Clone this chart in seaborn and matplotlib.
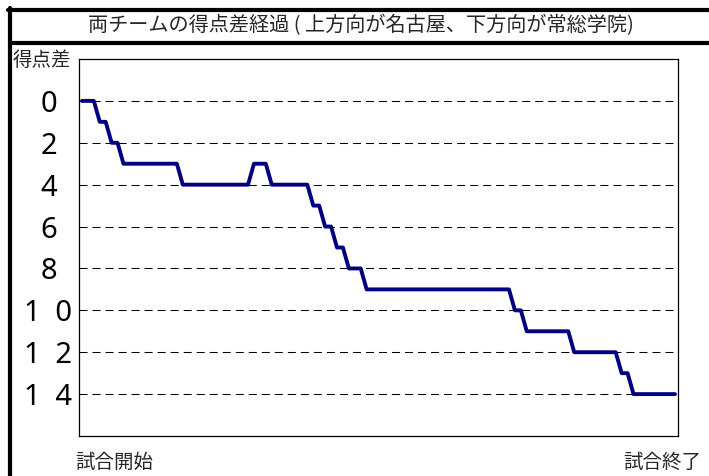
import numpy as np
import pandas as pd
import matplotlib
matplotlib.use("Agg")
import matplotlib.pyplot as plt
import matplotlib.transforms as mtransforms
from matplotlib.lines import Line2D
import seaborn as sns

title = "両チームの得点差経過 ( 上方向が名古屋、下方向が常総学院)"
y_label = "得点差"
start_label = "試合開始"
end_label = "試合終了"

# score difference after each event (down = 常総学院 ahead)
diff = [0, 0, 0, 1, 1, 2, 2, 3, 3, 3,
        3, 3, 3, 3, 3, 3, 3, 4, 4, 4,
        4, 4, 4, 4, 4, 4, 4, 4, 4, 3,
        3, 3, 4, 4, 4, 4, 4, 4, 4, 5,
        5, 6, 6, 7, 7, 8, 8, 8, 9, 9,
        9, 9, 9, 9, 9, 9, 9, 9, 9, 9,
        9, 9, 9, 9, 9, 9, 9, 9, 9, 9,
        9, 9, 9, 10, 10, 11, 11, 11, 11, 11,
        11, 11, 11, 12, 12, 12, 12, 12, 12, 12,
        12, 13, 13, 14, 14, 14, 14, 14, 14, 14,
        14]
tick_vals = [0, 2, 4, 6, 8, 10, 12, 14]
tick_labels = ["0", "2", "4", "6", "8", "1\u20020", "1\u20022", "1\u20024"]

df = pd.DataFrame({"step": range(len(diff)), "diff": diff})

sns.set_theme(style="white")
plt.rcParams["font.family"] = ["Noto Sans CJK JP", "DejaVu Sans"]

W, H = 709, 476
fig = plt.figure(figsize=(W / 100, H / 100), dpi=100)
ax = fig.add_axes([79 / W, 1 - 436 / H, 599 / W, 377 / H])

sns.lineplot(data=df, x="step", y="diff", ax=ax, color="#000080",
             linewidth=2.8, estimator=None)

ax.set_xlim(-0.5, 100.5)
ax.set_ylim(16, -2)
ax.set_xticks([])
ax.set_yticks(tick_vals)
ax.set_yticklabels(tick_labels, fontsize=21, color="black",
                   family=["Noto Sans", "DejaVu Sans"])
shift = mtransforms.ScaledTranslation(0, 3 / 100, fig.dpi_scale_trans)
for lab in ax.get_yticklabels():
    lab.set_ha("center")
    lab.set_transform(lab.get_transform() + shift)
ax.tick_params(axis="y", length=0, pad=22)
ax.set_xlabel("")
ax.set_ylabel("")
ax.yaxis.grid(True, color="black", linestyle=(0, (7.7, 4.8)), linewidth=0.75)
ax.xaxis.grid(False)
for s in ax.spines.values():
    s.set_visible(True)
    s.set_color("black")
    s.set_linewidth(0.9)

# outer frame and title bar
lw = 3.0
fig.add_artist(Line2D([10 / W, 10 / W], [0, 1 - 8 / H], color="black", lw=lw,
                      transform=fig.transFigure))
fig.add_artist(Line2D([8 / W, 1], [1 - 10 / H, 1 - 10 / H], color="black", lw=lw,
                      transform=fig.transFigure))
fig.add_artist(Line2D([10 / W, 1], [1 - 42.5 / H, 1 - 42.5 / H], color="black", lw=lw,
                      transform=fig.transFigure))

fig.text(361 / W, 1 - 26 / H, title, ha="center", va="center", fontsize=14.5)
fig.text(13 / W, 1 - 60 / H, y_label, ha="left", va="center", fontsize=14)
fig.text(114 / W, 1 - 462 / H, start_label, ha="center", va="center", fontsize=14)
fig.text(662 / W, 1 - 462 / H, end_label, ha="center", va="center", fontsize=14)

fig.savefig("out.png", dpi=100)
